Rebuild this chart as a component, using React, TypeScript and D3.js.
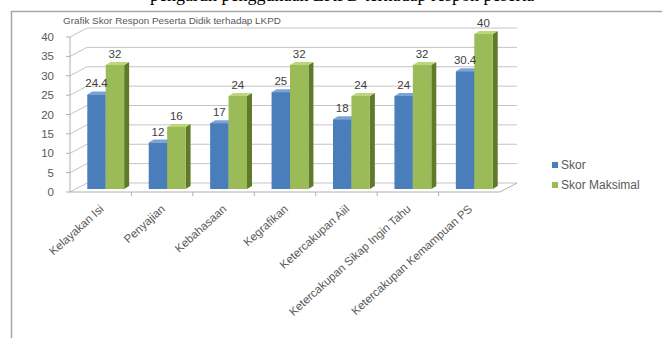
import React from "react";
import * as d3 from "d3";

const categories = [
  "Kelayakan Isi",
  "Penyajian",
  "Kebahasaan",
  "Kegrafikan",
  "Ketercakupan Aiil",
  "Ketercakupan Sikap Ingin Tahu",
  "Ketercakupan Kemampuan PS",
];
const skor = [24.4, 12, 17, 25, 18, 24, 30.4];
const skorMaks = [32, 16, 24, 32, 24, 32, 40];
const seriesNames = ["Skor", "Skor Maksimal"];
const yTicks = [0, 5, 10, 15, 20, 25, 30, 35, 40];

const W = 662;
const H = 338;
// 3d depth of the walls and bars
const depth = { dx: 17, dy: -9 };
const barShift = { dx: 5, dy: -3 };
const barDepth = { dx: 5, dy: -3 };

const palette = [
  { front: "#4a7ebb", side: "#2f5b8f", top: "#7ba3d8" },
  { front: "#9bbb59", side: "#5f7a28", top: "#bcd77a" },
];

const font = "'Liberation Sans', Arial, sans-serif";

export default function App() {
  const x = d3.scaleBand<string>().domain(categories).range([70, 500]);
  const x1 = d3
    .scaleBand<string>()
    .domain(seriesNames)
    .range([x.bandwidth() * 0.2, x.bandwidth() * 0.8]);
  const y = d3.scaleLinear().domain([0, 40]).range([192, 37]);

  const x0 = x.range()[0];
  const xEnd = x.range()[1];
  const y0 = y(0);

  const values = [skor, skorMaks];

  const bars = categories.flatMap((c, i) =>
    seriesNames.map((s, si) => {
      const v = values[si][i];
      const bx = (x(c) as number) + (x1(s) as number) + barShift.dx;
      const bw = x1.bandwidth();
      const by = y(v) + barShift.dy;
      const bb = y0 + barShift.dy;
      return { c, s, si, v, bx, bw, by, bb };
    })
  );

  return (
    <svg
      width={W}
      height={H}
      style={{ position: "absolute", left: 0, top: 0, background: "#fff" }}
    >
      {/* document text, cut off at the top edge like in the scan */}
      <text
        x={150}
        y={1}
        fontFamily="'Liberation Serif', 'Times New Roman', serif"
        fontSize={18}
        fill="#000"
      >
        pengaruh penggunaan LKPD terhadap respon peserta
      </text>

      {/* chart frame */}
      <path
        d={`M${W + 2},11.5 H11.5 V${H + 2}`}
        fill="none"
        stroke="#a6a6a6"
        strokeWidth={1.5}
      />

      <text x={63} y={24} fontFamily={font} fontSize={9.9} fill="#595959">
        Grafik Skor Respon Peserta Didik terhadap LKPD
      </text>

      {/* gridlines on side + back wall */}
      {yTicks.map((t) => (
        <path
          key={t}
          d={`M${x0},${y(t)} L${x0 + depth.dx},${y(t) + depth.dy} H${xEnd + depth.dx}`}
          fill="none"
          stroke="#c4c4c4"
          strokeWidth={1}
        />
      ))}
      {/* floor front edge */}
      <path
        d={`M${x0},${y0} H${xEnd} L${xEnd + depth.dx},${y0 + depth.dy}`}
        fill="none"
        stroke="#b0b0b0"
        strokeWidth={1}
      />
      {categories.slice(1).map((c) => (
        <line
          key={c}
          x1={x(c)}
          x2={x(c)}
          y1={y0}
          y2={y0 + 4}
          stroke="#b0b0b0"
        />
      ))}

      {/* y axis */}
      <line x1={x0} x2={x0} y1={y(40)} y2={y0} stroke="#b0b0b0" />
      {yTicks.map((t) => (
        <g key={t}>
          <line x1={x0 - 4} x2={x0} y1={y(t)} y2={y(t)} stroke="#b0b0b0" />
          <text
            x={54}
            y={y(t)}
            dy="0.35em"
            textAnchor="end"
            fontFamily={font}
            fontSize={11.5}
            fill="#595959"
          >
            {t}
          </text>
        </g>
      ))}

      {/* 3d bars */}
      {bars.map((b) => {
        const col = palette[b.si];
        const { dx, dy } = barDepth;
        return (
          <g key={b.c + b.s}>
            <path
              d={`M${b.bx + b.bw},${b.by} L${b.bx + b.bw + dx},${b.by + dy} V${b.bb + dy} L${b.bx + b.bw},${b.bb} Z`}
              fill={col.side}
            />
            <path
              d={`M${b.bx},${b.by} L${b.bx + dx},${b.by + dy} H${b.bx + b.bw + dx} L${b.bx + b.bw},${b.by} Z`}
              fill={col.top}
            />
            <rect x={b.bx} y={b.by} width={b.bw} height={b.bb - b.by} fill={col.front} />
          </g>
        );
      })}

      {/* value labels */}
      {bars.map((b) => (
        <text
          key={"l" + b.c + b.s}
          x={b.bx + b.bw / 2}
          y={b.by + barDepth.dy - 4}
          textAnchor="middle"
          fontFamily={font}
          fontSize={11.5}
          fill="#404040"
        >
          {b.v}
        </text>
      ))}

      {/* category labels */}
      {categories.map((c) => {
        const cx = (x(c) as number) + x.bandwidth() / 2;
        return (
          <text
            key={c}
            transform={`translate(${cx + 1},207) rotate(-42)`}
            textAnchor="end"
            dy="0.35em"
            fontFamily={font}
            fontSize={11.5}
            fill="#595959"
          >
            {c}
          </text>
        );
      })}

      {/* legend */}
      {seriesNames.map((s, i) => (
        <g key={s} transform={`translate(552,${165 + i * 20})`}>
          <rect x={0} y={-3} width={6} height={6} fill={palette[i].front} />
          <text x={9} y={0} dy="0.35em" fontFamily={font} fontSize={12} fill="#595959">
            {s}
          </text>
        </g>
      ))}
    </svg>
  );
}
